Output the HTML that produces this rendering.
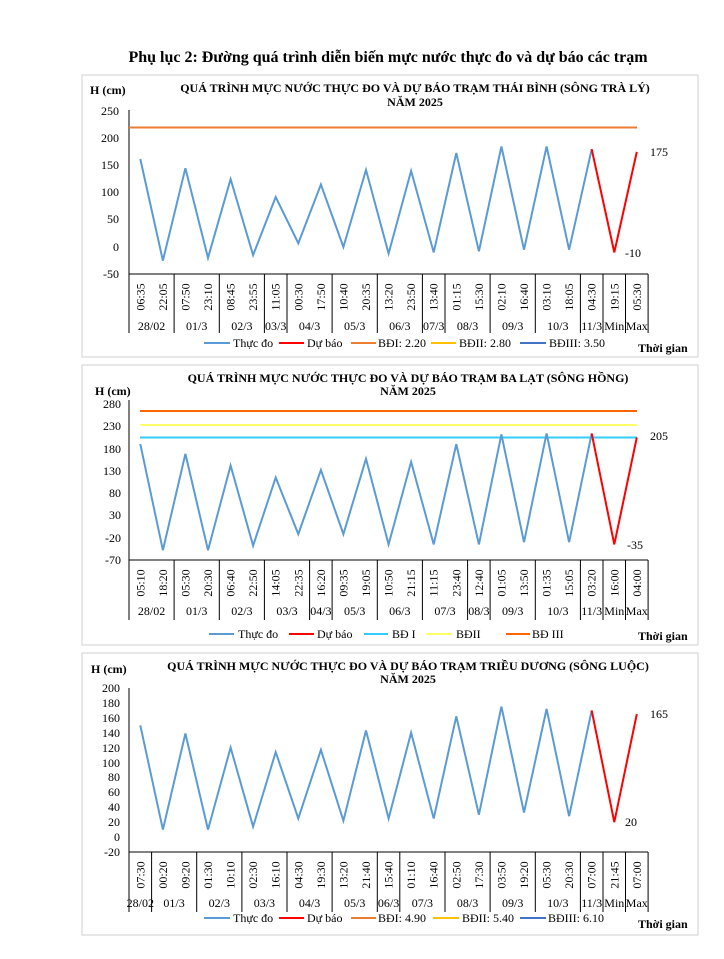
<!DOCTYPE html>
<html><head><meta charset="utf-8"><style>
body{margin:0;background:#fff}
svg text{font-family:"Liberation Serif",serif;fill:#000}
.t{font-size:12px}
.b{font-weight:bold}
</style></head><body>
<svg width="724" height="954" viewBox="0 0 724 954" xmlns="http://www.w3.org/2000/svg">
<text x="388" y="62" text-anchor="middle" class="b" style="font-size:16px">Phụ lục 2: Đường quá trình diễn biến mực nước thực đo và dự báo các trạm</text>

<!-- ===== Chart 1 ===== -->
<rect x="82" y="75" width="616" height="282" fill="none" stroke="#d0d0d0"/>
<text x="90" y="94" class="b" style="font-size:12px">H (cm)</text>
<text x="415" y="92" text-anchor="middle" class="b" style="font-size:12px">QUÁ TRÌNH MỰC NƯỚC THỰC ĐO VÀ DỰ BÁO TRẠM THÁI BÌNH (SÔNG TRÀ LÝ)</text>
<text x="415" y="106" text-anchor="middle" class="b" style="font-size:12px">NĂM 2025</text>
<g class="t" text-anchor="end">
<text x="119" y="115">250</text><text x="119" y="142">200</text><text x="119" y="169">150</text><text x="119" y="196">100</text><text x="119" y="223">50</text><text x="119" y="251">0</text><text x="119" y="278">-50</text>
</g>
<line x1="129" y1="110" x2="129" y2="274" stroke="#000"/>
<line x1="129" y1="274" x2="648" y2="274" stroke="#000"/>
<line x1="129" y1="127.5" x2="637" y2="127.5" stroke="#ed7d31" stroke-width="2"/>
<polyline fill="none" stroke="#5b9bd5" stroke-width="2" points="140.3,159 162.9,260.6 185.4,168.2 208,257.9 230.6,179.1 253.1,255.1 275.7,197 298.3,243.2 320.9,184.5 343.4,247 366,169.9 388.6,253.5 411.1,170.9 433.7,252.4 456.3,153 478.9,251.3 501.4,146.5 524,249.7 546.6,146.5 569.1,249.7 591.7,149.2"/>
<polyline fill="none" stroke="#ff0000" stroke-width="2" points="591.7,149.2 614.3,252.4 636.8,151.9"/>
<text x="650" y="156" class="t">175</text>
<text x="625" y="257" class="t">-10</text>
<g stroke="#000">
<line x1="129" y1="274" x2="129" y2="333"/><line x1="174.1" y1="274" x2="174.1" y2="333"/><line x1="219.3" y1="274" x2="219.3" y2="333"/><line x1="264.4" y1="274" x2="264.4" y2="333"/><line x1="287" y1="274" x2="287" y2="333"/><line x1="332.1" y1="274" x2="332.1" y2="333"/><line x1="377.3" y1="274" x2="377.3" y2="333"/><line x1="422.4" y1="274" x2="422.4" y2="333"/><line x1="445" y1="274" x2="445" y2="333"/><line x1="490.1" y1="274" x2="490.1" y2="333"/><line x1="535.3" y1="274" x2="535.3" y2="333"/><line x1="580.4" y1="274" x2="580.4" y2="333"/><line x1="603" y1="274" x2="603" y2="333"/><line x1="625.5" y1="274" x2="625.5" y2="333"/><line x1="648.1" y1="274" x2="648.1" y2="333"/>
</g>
<g class="t" text-anchor="middle">
<text transform="translate(144.3,297) rotate(-90)">06:35</text><text transform="translate(166.9,297) rotate(-90)">22:05</text><text transform="translate(189.4,297) rotate(-90)">07:50</text><text transform="translate(212,297) rotate(-90)">23:10</text><text transform="translate(234.6,297) rotate(-90)">08:45</text><text transform="translate(257.1,297) rotate(-90)">23:55</text><text transform="translate(279.7,297) rotate(-90)">11:05</text><text transform="translate(302.3,297) rotate(-90)">00:30</text><text transform="translate(324.9,297) rotate(-90)">17:50</text><text transform="translate(347.4,297) rotate(-90)">10:40</text><text transform="translate(370,297) rotate(-90)">20:35</text><text transform="translate(392.6,297) rotate(-90)">13:20</text><text transform="translate(415.1,297) rotate(-90)">23:50</text><text transform="translate(437.7,297) rotate(-90)">13:40</text><text transform="translate(460.3,297) rotate(-90)">01:15</text><text transform="translate(482.9,297) rotate(-90)">15:30</text><text transform="translate(505.4,297) rotate(-90)">02:10</text><text transform="translate(528,297) rotate(-90)">16:40</text><text transform="translate(550.6,297) rotate(-90)">03:10</text><text transform="translate(573.1,297) rotate(-90)">18:05</text><text transform="translate(595.7,297) rotate(-90)">04:30</text><text transform="translate(618.3,297) rotate(-90)">19:15</text><text transform="translate(640.8,297) rotate(-90)">05:30</text>
<text x="151.6" y="330">28/02</text><text x="196.7" y="330">01/3</text><text x="241.9" y="330">02/3</text><text x="275.7" y="330">03/3</text><text x="309.6" y="330">04/3</text><text x="354.7" y="330">05/3</text><text x="399.8" y="330">06/3</text><text x="433.7" y="330">07/3</text><text x="467.6" y="330">08/3</text><text x="512.7" y="330">09/3</text><text x="557.8" y="330">10/3</text><text x="591.7" y="330">11/3</text><text x="614.3" y="330">Min</text><text x="636.8" y="330">Max</text>
</g>
<g class="t">
<line x1="204" y1="343" x2="230" y2="343" stroke="#5b9bd5" stroke-width="2"/><text x="233" y="347">Thực đo</text>
<line x1="279" y1="343" x2="304" y2="343" stroke="#ff0000" stroke-width="2"/><text x="307" y="347">Dự báo</text>
<line x1="351" y1="343" x2="376" y2="343" stroke="#ed7d31" stroke-width="2"/><text x="378" y="347">BĐI: 2.20</text>
<line x1="431" y1="343" x2="456" y2="343" stroke="#ffc000" stroke-width="2"/><text x="459" y="347">BĐII: 2.80</text>
<line x1="520" y1="343" x2="546" y2="343" stroke="#4472c4" stroke-width="2"/><text x="549" y="347">BĐIII: 3.50</text>
<text x="638" y="352" class="b">Thời gian</text>
</g>

<!-- ===== Chart 2 ===== -->
<rect x="82" y="365" width="616" height="280" fill="none" stroke="#d0d0d0"/>
<text x="95" y="395" class="b" style="font-size:12px">H (cm)</text>
<text x="408" y="382" text-anchor="middle" class="b" style="font-size:12px">QUÁ TRÌNH MỰC NƯỚC THỰC ĐO VÀ DỰ BÁO TRẠM BA LẠT (SÔNG HỒNG)</text>
<text x="408" y="395" text-anchor="middle" class="b" style="font-size:12px">NĂM 2025</text>
<g class="t" text-anchor="end">
<text x="121" y="408">280</text><text x="121" y="430">230</text><text x="121" y="453">180</text><text x="121" y="475">130</text><text x="121" y="497">80</text><text x="121" y="519">30</text><text x="121" y="542">-20</text><text x="121" y="564">-70</text>
</g>
<line x1="129" y1="400" x2="129" y2="560" stroke="#000"/>
<line x1="129" y1="560" x2="648" y2="560" stroke="#000"/>
<line x1="140" y1="411" x2="637" y2="411" stroke="#ff6600" stroke-width="2"/>
<line x1="140" y1="425" x2="637" y2="425" stroke="#ffff66" stroke-width="2"/>
<line x1="140" y1="437.5" x2="637" y2="437.5" stroke="#33ccff" stroke-width="2"/>
<polyline fill="none" stroke="#5b9bd5" stroke-width="2" points="140.3,444.1 162.9,550.2 185.4,453.9 208,550.2 230.6,465.5 253.1,545.7 275.7,477.5 298.3,534.1 320.9,470 343.4,534.1 366,458.8 388.6,544.4 411.1,461.9 433.7,544.4 456.3,444.1 478.9,544.4 501.4,434.3 524,542.2 546.6,433.4 569.1,542.2 591.7,433.4"/>
<polyline fill="none" stroke="#ff0000" stroke-width="2" points="591.7,433.4 614.3,544.4 636.8,437.4"/>
<text x="650" y="440" class="t">205</text>
<text x="627" y="549" class="t">-35</text>
<g stroke="#000">
<line x1="129" y1="560" x2="129" y2="620"/><line x1="174.1" y1="560" x2="174.1" y2="620"/><line x1="219.3" y1="560" x2="219.3" y2="620"/><line x1="264.4" y1="560" x2="264.4" y2="620"/><line x1="309.6" y1="560" x2="309.6" y2="620"/><line x1="332.1" y1="560" x2="332.1" y2="620"/><line x1="377.3" y1="560" x2="377.3" y2="620"/><line x1="422.4" y1="560" x2="422.4" y2="620"/><line x1="467.6" y1="560" x2="467.6" y2="620"/><line x1="490.1" y1="560" x2="490.1" y2="620"/><line x1="535.3" y1="560" x2="535.3" y2="620"/><line x1="580.4" y1="560" x2="580.4" y2="620"/><line x1="603" y1="560" x2="603" y2="620"/><line x1="625.5" y1="560" x2="625.5" y2="620"/><line x1="648.1" y1="560" x2="648.1" y2="620"/>
</g>
<g class="t" text-anchor="middle">
<text transform="translate(144.3,583) rotate(-90)">05:10</text><text transform="translate(166.9,583) rotate(-90)">18:20</text><text transform="translate(189.4,583) rotate(-90)">05:30</text><text transform="translate(212,583) rotate(-90)">20:30</text><text transform="translate(234.6,583) rotate(-90)">06:40</text><text transform="translate(257.1,583) rotate(-90)">22:50</text><text transform="translate(279.7,583) rotate(-90)">14:05</text><text transform="translate(302.3,583) rotate(-90)">22:35</text><text transform="translate(324.9,583) rotate(-90)">16:20</text><text transform="translate(347.4,583) rotate(-90)">09:35</text><text transform="translate(370,583) rotate(-90)">19:05</text><text transform="translate(392.6,583) rotate(-90)">10:50</text><text transform="translate(415.1,583) rotate(-90)">21:15</text><text transform="translate(437.7,583) rotate(-90)">11:15</text><text transform="translate(460.3,583) rotate(-90)">23:40</text><text transform="translate(482.9,583) rotate(-90)">12:40</text><text transform="translate(505.4,583) rotate(-90)">01:05</text><text transform="translate(528,583) rotate(-90)">13:50</text><text transform="translate(550.6,583) rotate(-90)">01:35</text><text transform="translate(573.1,583) rotate(-90)">15:05</text><text transform="translate(595.7,583) rotate(-90)">03:20</text><text transform="translate(618.3,583) rotate(-90)">16:00</text><text transform="translate(640.8,583) rotate(-90)">04:00</text>
<text x="151.6" y="615">28/02</text><text x="196.7" y="615">01/3</text><text x="241.9" y="615">02/3</text><text x="287" y="615">03/3</text><text x="320.9" y="615">04/3</text><text x="354.7" y="615">05/3</text><text x="399.8" y="615">06/3</text><text x="445" y="615">07/3</text><text x="478.9" y="615">08/3</text><text x="512.7" y="615">09/3</text><text x="557.8" y="615">10/3</text><text x="591.7" y="615">11/3</text><text x="614.3" y="615">Min</text><text x="636.8" y="615">Max</text>
</g>
<g class="t">
<line x1="209" y1="634" x2="234" y2="634" stroke="#5b9bd5" stroke-width="2"/><text x="238" y="638">Thực đo</text>
<line x1="289" y1="634" x2="314" y2="634" stroke="#ff0000" stroke-width="2"/><text x="317" y="638">Dự báo</text>
<line x1="364" y1="634" x2="388" y2="634" stroke="#33ccff" stroke-width="2"/><text x="392" y="638">BĐ I</text>
<line x1="426" y1="634" x2="452" y2="634" stroke="#ffff66" stroke-width="2"/><text x="456" y="638">BĐII</text>
<line x1="506" y1="634" x2="530" y2="634" stroke="#ff6600" stroke-width="2"/><text x="532" y="638">BĐ III</text>
<text x="638" y="640" class="b">Thời gian</text>
</g>

<!-- ===== Chart 3 ===== -->
<rect x="82" y="653" width="616" height="282" fill="none" stroke="#d0d0d0"/>
<text x="91" y="673" class="b" style="font-size:12px">H (cm)</text>
<text x="408" y="670" text-anchor="middle" class="b" style="font-size:12px">QUÁ TRÌNH MỰC NƯỚC THỰC ĐO VÀ DỰ BÁO TRẠM TRIỀU DƯƠNG (SÔNG LUỘC)</text>
<text x="408" y="683" text-anchor="middle" class="b" style="font-size:12px">NĂM 2025</text>
<g class="t" text-anchor="end">
<text x="120" y="692">200</text><text x="120" y="707">180</text><text x="120" y="722">160</text><text x="120" y="737">140</text><text x="120" y="752">120</text><text x="120" y="767">100</text><text x="120" y="781">80</text><text x="120" y="796">60</text><text x="120" y="811">40</text><text x="120" y="826">20</text><text x="120" y="841">0</text><text x="120" y="856">-20</text>
</g>
<line x1="129" y1="688" x2="129" y2="852" stroke="#000"/>
<line x1="129" y1="852" x2="648" y2="852" stroke="#000"/>
<polyline fill="none" stroke="#5b9bd5" stroke-width="2" points="140.3,725.3 162.9,829.6 185.4,733.5 208,829.6 230.6,747.6 253.1,826.7 275.7,752.1 298.3,818.5 320.9,749.9 343.4,820.7 366,730.5 388.6,818.5 411.1,732.7 433.7,818.5 456.3,716.3 478.9,814.7 501.4,706.6 524,812.5 546.6,708.9 569.1,816.2 591.7,710.4"/>
<polyline fill="none" stroke="#ff0000" stroke-width="2" points="591.7,710.4 614.3,822.2 636.8,714.1"/>
<text x="650" y="718" class="t">165</text>
<text x="625" y="826" class="t">20</text>
<g stroke="#000">
<line x1="129" y1="852" x2="129" y2="912"/><line x1="151.6" y1="852" x2="151.6" y2="912"/><line x1="196.7" y1="852" x2="196.7" y2="912"/><line x1="241.9" y1="852" x2="241.9" y2="912"/><line x1="287" y1="852" x2="287" y2="912"/><line x1="332.1" y1="852" x2="332.1" y2="912"/><line x1="377.3" y1="852" x2="377.3" y2="912"/><line x1="399.8" y1="852" x2="399.8" y2="912"/><line x1="445" y1="852" x2="445" y2="912"/><line x1="490.1" y1="852" x2="490.1" y2="912"/><line x1="535.3" y1="852" x2="535.3" y2="912"/><line x1="580.4" y1="852" x2="580.4" y2="912"/><line x1="603" y1="852" x2="603" y2="912"/><line x1="625.5" y1="852" x2="625.5" y2="912"/><line x1="648.1" y1="852" x2="648.1" y2="912"/>
</g>
<g class="t" text-anchor="middle">
<text transform="translate(144.3,875) rotate(-90)">07:30</text><text transform="translate(166.9,875) rotate(-90)">00:20</text><text transform="translate(189.4,875) rotate(-90)">09:20</text><text transform="translate(212,875) rotate(-90)">01:30</text><text transform="translate(234.6,875) rotate(-90)">10:10</text><text transform="translate(257.1,875) rotate(-90)">02:30</text><text transform="translate(279.7,875) rotate(-90)">16:10</text><text transform="translate(302.3,875) rotate(-90)">04:30</text><text transform="translate(324.9,875) rotate(-90)">19:30</text><text transform="translate(347.4,875) rotate(-90)">13:20</text><text transform="translate(370,875) rotate(-90)">21:40</text><text transform="translate(392.6,875) rotate(-90)">15:40</text><text transform="translate(415.1,875) rotate(-90)">01:10</text><text transform="translate(437.7,875) rotate(-90)">16:40</text><text transform="translate(460.3,875) rotate(-90)">02:50</text><text transform="translate(482.9,875) rotate(-90)">17:30</text><text transform="translate(505.4,875) rotate(-90)">03:50</text><text transform="translate(528,875) rotate(-90)">19:20</text><text transform="translate(550.6,875) rotate(-90)">05:30</text><text transform="translate(573.1,875) rotate(-90)">20:30</text><text transform="translate(595.7,875) rotate(-90)">07:00</text><text transform="translate(618.3,875) rotate(-90)">21:45</text><text transform="translate(640.8,875) rotate(-90)">07:00</text>
<text x="140.3" y="907">28/02</text><text x="174.1" y="907">01/3</text><text x="219.3" y="907">02/3</text><text x="264.4" y="907">03/3</text><text x="309.6" y="907">04/3</text><text x="354.7" y="907">05/3</text><text x="388.6" y="907">06/3</text><text x="422.4" y="907">07/3</text><text x="467.6" y="907">08/3</text><text x="512.7" y="907">09/3</text><text x="557.8" y="907">10/3</text><text x="591.7" y="907">11/3</text><text x="614.3" y="907">Min</text><text x="636.8" y="907">Max</text>
</g>
<g class="t">
<line x1="204" y1="918" x2="230" y2="918" stroke="#5b9bd5" stroke-width="2"/><text x="233" y="922">Thực đo</text>
<line x1="279" y1="918" x2="304" y2="918" stroke="#ff0000" stroke-width="2"/><text x="307" y="922">Dự báo</text>
<line x1="351" y1="918" x2="376" y2="918" stroke="#ed7d31" stroke-width="2"/><text x="378" y="922">BĐI: 4.90</text>
<line x1="433" y1="918" x2="459" y2="918" stroke="#ffc000" stroke-width="2"/><text x="462" y="922">BĐII: 5.40</text>
<line x1="520" y1="918" x2="546" y2="918" stroke="#4472c4" stroke-width="2"/><text x="548" y="922">BĐIII: 6.10</text>
<text x="638" y="928" class="b">Thời gian</text>
</g>
</svg>
</body></html>
